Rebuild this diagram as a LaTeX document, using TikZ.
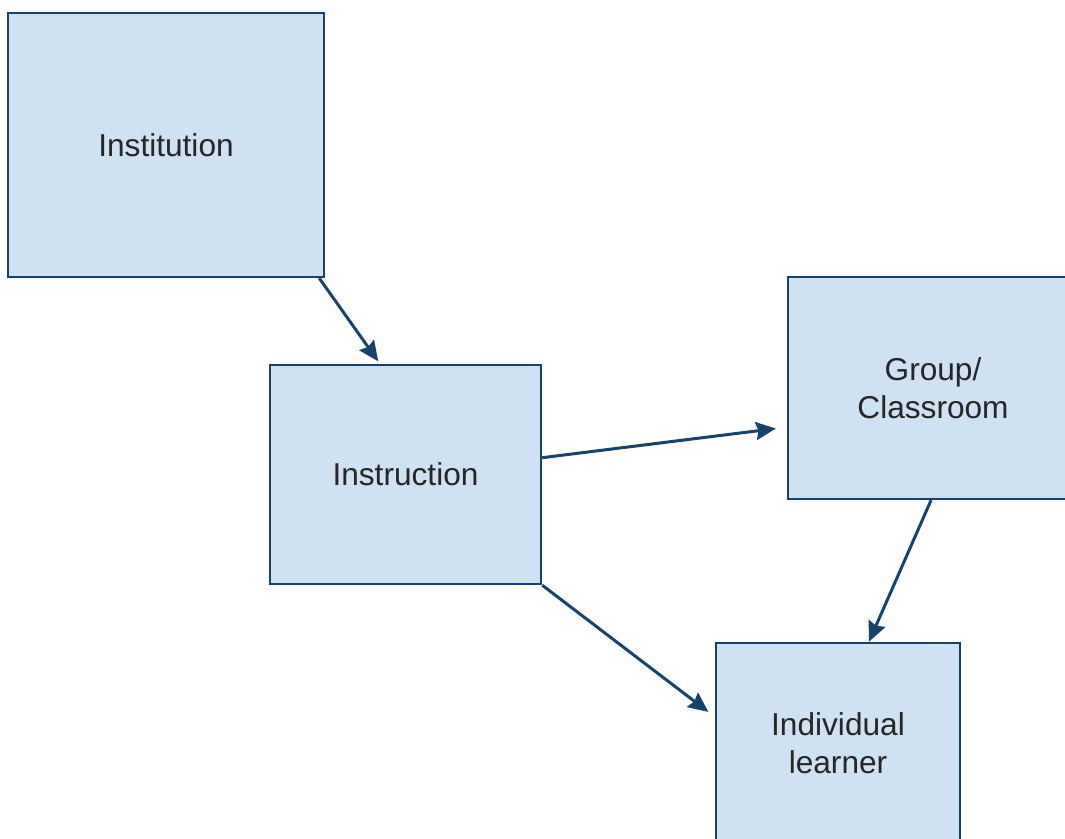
\documentclass[tikz,border=0pt]{standalone}
\usepackage{fontspec}
\setmainfont{Liberation Sans}
\usetikzlibrary{arrows.meta}
\definecolor{boxfill}{HTML}{CFE2F3}
\definecolor{lineblue}{HTML}{17426C}
\begin{document}
\begin{tikzpicture}[
		box/.style={draw=lineblue, line width=1.4pt, fill=boxfill, inner sep=0pt, align=center, text=black!85, font=\fontsize{18}{21.6}\selectfont},
		flow/.style={lineblue, line width=1.7pt, -{Stealth[length=0.4cm, width=0.36cm, inset=0.05cm]}}
	]
		\useasboundingbox (0,0) rectangle (21.3,16.78);
		\clip (0,0) rectangle (21.3,16.78);

		\node[box, minimum width=6.32cm, minimum height=5.28cm] (inst) at (3.32,13.88) {Institution};
		\node[box, minimum width=5.42cm, minimum height=4.38cm] (instr) at (8.11,7.29) {Instruction};
		\node[box, minimum width=5.8cm, minimum height=4.44cm] (grp) at (18.66,9.02) {Group/\\Classroom};
		\node[box, minimum width=4.88cm, minimum height=4cm] (ind) at (16.76,1.92) {Individual\\learner};

		\draw[flow, shorten >=0.06cm] (inst.-41) -- (instr.103);
		\draw[flow, shorten >=0.22cm] (instr.7) -- (grp.195);
		\draw[flow, shorten >=0.16cm] (instr.south east) -- (ind.168);
		\draw[flow] (grp.-91) -- (ind.73);
	\end{tikzpicture}
\end{document}
